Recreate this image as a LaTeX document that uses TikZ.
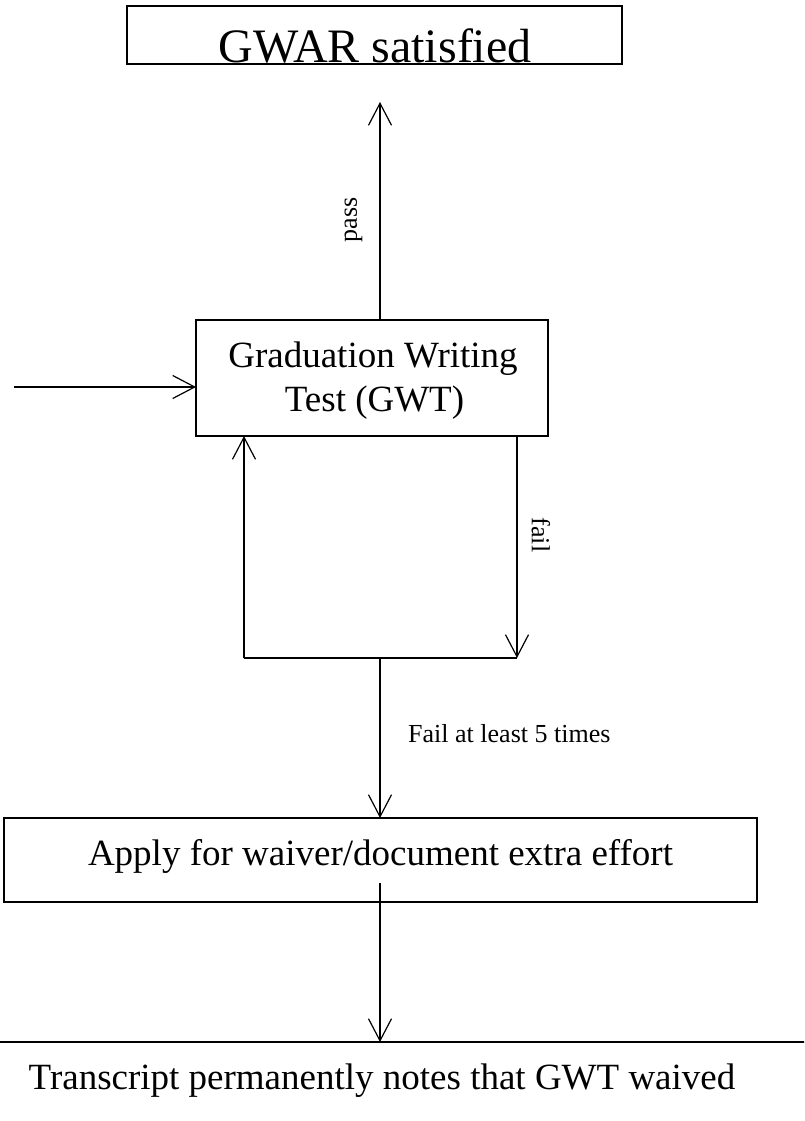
\documentclass[tikz,border=0pt]{standalone}
\usepackage{fontspec}
\setmainfont{Liberation Serif}
\usetikzlibrary{arrows.meta}
\begin{document}
\begin{tikzpicture}[x=1pt,y=-1pt,
  box/.style={draw, line width=1.2pt, inner sep=0pt, outer sep=0pt},
  arr/.style={line width=1.2pt, -{Straight Barb[length=22pt,width=23pt,line width=1.2pt]}},
  ln/.style={line width=1.2pt},
  big/.style={font=\fontsize{48}{56}\selectfont, inner sep=0pt, anchor=base},
  mid/.style={font=\fontsize{37}{44}\selectfont, inner sep=0pt, anchor=base},
  small/.style={font=\fontsize{26}{30}\selectfont, inner sep=0pt}]
\useasboundingbox (0,0) rectangle (804,1121);
\fill[white] (0,0) rectangle (804,1121);
\clip (0,0) rectangle (804,1121);

% boxes
\node[box, minimum width=495pt, minimum height=58pt] (gwar) at (374.5,35) {};
\node[big] (gwart) at (375,63) {GWAR satisfied};
\node[box, minimum width=352pt, minimum height=116pt] (gwt) at (372,378) {};
\node[mid] (gwt1) at (373,367) {Graduation Writing};
\node[mid] (gwt2) at (374.5,411) {Test (GWT)};
\node[box, minimum width=753pt, minimum height=84pt] (apply) at (380.5,860) {};
\node[mid] (applyt) at (380.5,865) {Apply for waiver/document extra effort};
\node[box, minimum width=1400pt, minimum height=300pt, anchor=north] (trans) at (380,1042) {};
\node[mid] (transt) at (382,1089) {Transcript permanently notes that GWT waived};

% connector points
\coordinate (in) at (14,387);
\coordinate (passtip) at (380,102);
\coordinate (lb) at (244,658);
\coordinate (rb) at (517,658);
\coordinate (mb) at (380,658);
\coordinate (aout) at (380,883);

% connectors
\draw[arr] (in) -- (in -| gwt.west);
\draw[arr] (gwt.north -| passtip) -- (passtip);
\draw[arr] (lb) -- (lb |- gwt.south);
\draw[arr] (rb |- gwt.south) -- (rb);
\draw[ln] (lb) -- (rb);
\draw[arr] (mb) -- (mb |- apply.north);
\draw[arr] (aout) -- (aout |- trans.north);

% labels
\node[small, rotate=90] (pass) at (353.5,220) {pass};
\node[small, rotate=-90] (fail) at (541,535) {fail};
\node[small, anchor=base west] (five) at (408,742) {Fail at least 5 times};
\end{tikzpicture}
\end{document}
